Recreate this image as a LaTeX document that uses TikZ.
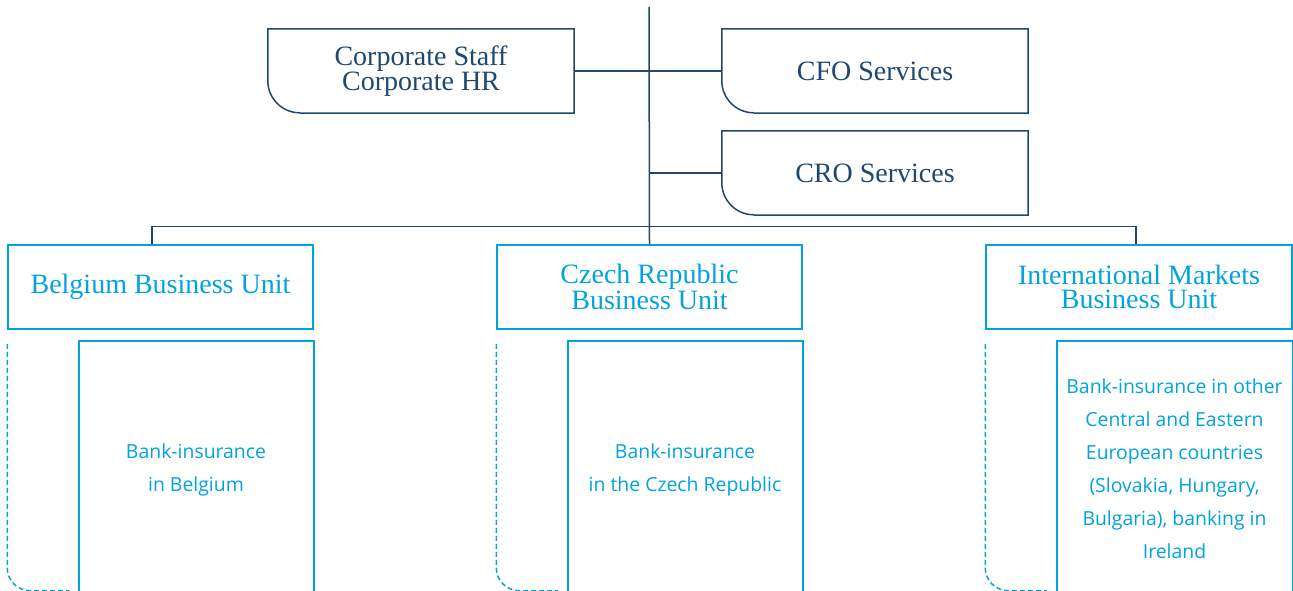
\documentclass[tikz,border=0pt]{standalone}
\usepackage{fontspec}
\setmainfont{Liberation Serif}
\newfontfamily\bodyfont{Open Sans}
\definecolor{navy}{RGB}{30,72,112}
\definecolor{sky}{RGB}{0,163,224}
\begin{document}
\begin{tikzpicture}[x=1pt,y=-1pt,
  headtxt/.style={font=\fontsize{28}{24}\selectfont, align=center, inner sep=0pt},
  darkbox/.style={headtxt, text=navy, minimum width=306pt, minimum height=84pt},
  unitbox/.style={headtxt, text=sky, draw=sky, line width=1.5pt, minimum width=305pt, minimum height=84pt},
  subtxt/.style={font=\bodyfont\fontsize{19.4}{33}\selectfont, text=sky, align=center, inner sep=0pt},
  darkline/.style={draw=navy, line width=1.5pt},
  skyline/.style={draw=sky, line width=1.5pt},
  dashline/.style={draw=sky, line width=1.5pt, dash pattern=on 5pt off 3pt}]
\useasboundingbox (0,0) rectangle (1293,591);
\clip (0,0) rectangle (1293,591);
% top boxes
\node[darkbox] (corp) at (421,71) {Corporate Staff\\Corporate HR};
\node[darkbox] (cfo) at (875,71) {CFO Services};
\node[darkbox] (cro) at (875,173) {CRO Services};
\foreach \n in {corp,cfo,cro}{
  \draw[darkline] (\n.south west) ++(32,0) -- (\n.south east) -- (\n.north east) -- (\n.north west) -- ++(0,52) arc[start angle=180, end angle=90, radius=32];
}
% business units
\node[unitbox] (bel) at (160.5,287) {Belgium Business Unit};
\node[unitbox] (cz) at (649.5,287) {Czech Republic\\Business Unit};
\node[unitbox, minimum width=306pt] (intl) at (1139,287) {International Markets\\Business Unit};
% connectors
\coordinate (top) at (649,7);
\draw[darkline] (top) -- (cz.north);
\draw[darkline] (corp.east) -- (cfo.west);
\draw[darkline] (cro.west) -- (cro.west -| top);
\draw[darkline] ([xshift=-8.5]bel.north) -- ++(0,-18) -| ([xshift=-3]intl.north);
% sub boxes
\coordinate (bs) at (79,341);
\coordinate (cs) at (568,341);
\coordinate (is) at (1057,341);
\draw[skyline] (bs |- 0,600) -- (bs) -- (bel.south east |- bs) -- (bel.south east |- 0,600);
\draw[skyline] (cs |- 0,600) -- (cs) -- (cz.south east |- cs) -- (cz.south east |- 0,600);
\draw[skyline] (is |- 0,600) -- (is) -- (intl.south east |- is) -- (intl.south east |- 0,600);
\node[subtxt] (belt) at (196,470) {Bank-insurance\\in Belgium};
\node[subtxt] (czt) at (685,470) {Bank-insurance\\in the Czech Republic};
\node[subtxt] (intlt) at (1174.5,469) {Bank-insurance in other\\Central and Eastern\\European countries\\(Slovakia, Hungary,\\Bulgaria), banking in\\Ireland};
% dashed brackets
\foreach \n in {bel,cz,intl}{
  \draw[dashline] (\n.south west) ++(0,14) -- ++(0,224) arc[start angle=180, end angle=90, radius=23] -- ++(39,0);
}
\end{tikzpicture}
\end{document}
